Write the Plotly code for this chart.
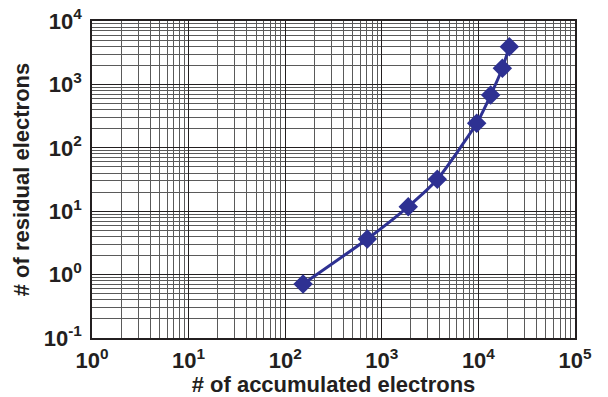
import plotly.graph_objects as go

accumulated = [153, 708, 1880, 3755, 9600, 13400, 17700, 20900]
residual = [0.71, 3.65, 11.8, 31.8, 243, 680, 1795, 3935]

x_tickvals = [1, 10, 100, 1000, 10000, 100000]
x_ticktext = ["10<sup>0</sup>", "10<sup>1</sup>", "10<sup>2</sup>",
              "10<sup>3</sup>", "10<sup>4</sup>", "10<sup>5</sup>"]
y_tickvals = [0.1, 1, 10, 100, 1000, 10000]
y_ticktext = ["10<sup>-1</sup>", "10<sup>0</sup>", "10<sup>1</sup>",
              "10<sup>2</sup>", "10<sup>3</sup>", "10<sup>4</sup>"]

color = "#2E3192"
ink = "#231f20"
fig = go.Figure()
fig.add_trace(go.Scatter(
    x=accumulated, y=residual, mode="lines+markers",
    line=dict(color=color, width=3, shape="spline", smoothing=0.5),
    marker=dict(symbol="diamond", size=15, color=color),
    showlegend=False,
))

fam = "Liberation Sans, Arial, sans-serif"
tickfont = dict(family=fam, size=22, color=ink, weight="bold")
titlefont = dict(family=fam, size=22, color=ink, weight="bold")
axis_common = dict(
    showline=True, linecolor=ink, linewidth=1.5, mirror=True,
    showgrid=True, gridcolor=ink, gridwidth=1,
    ticks="", zeroline=False, automargin=False,
    tickfont=tickfont, ticklabeloverflow="allow",
    minor=dict(showgrid=True, gridcolor="#5a5a5a", gridwidth=1, ticks="", dtick="D1"),
)
fig.update_xaxes(type="log", range=[0, 5], tickvals=x_tickvals, ticktext=x_ticktext,
                 title=dict(text="# of accumulated electrons", font=titlefont, standoff=1),
                 ticklabelstandoff=2,
                 **axis_common)
fig.update_yaxes(type="log", range=[-1, 4], tickvals=y_tickvals, ticktext=y_ticktext,
                 title=dict(text="# of residual electrons", font=titlefont, standoff=8),
                 ticklabelstandoff=4,
                 **axis_common)
fig.update_layout(
    width=608, height=397,
    margin=dict(l=92, r=33, t=21, b=59),
    paper_bgcolor="white", plot_bgcolor="white",
)
# remove the browser's default 8px page margin so the figure fills the window
fig.write_html("out.html", config={"displayModeBar": False},
               post_script="document.body.style.margin='0';")
